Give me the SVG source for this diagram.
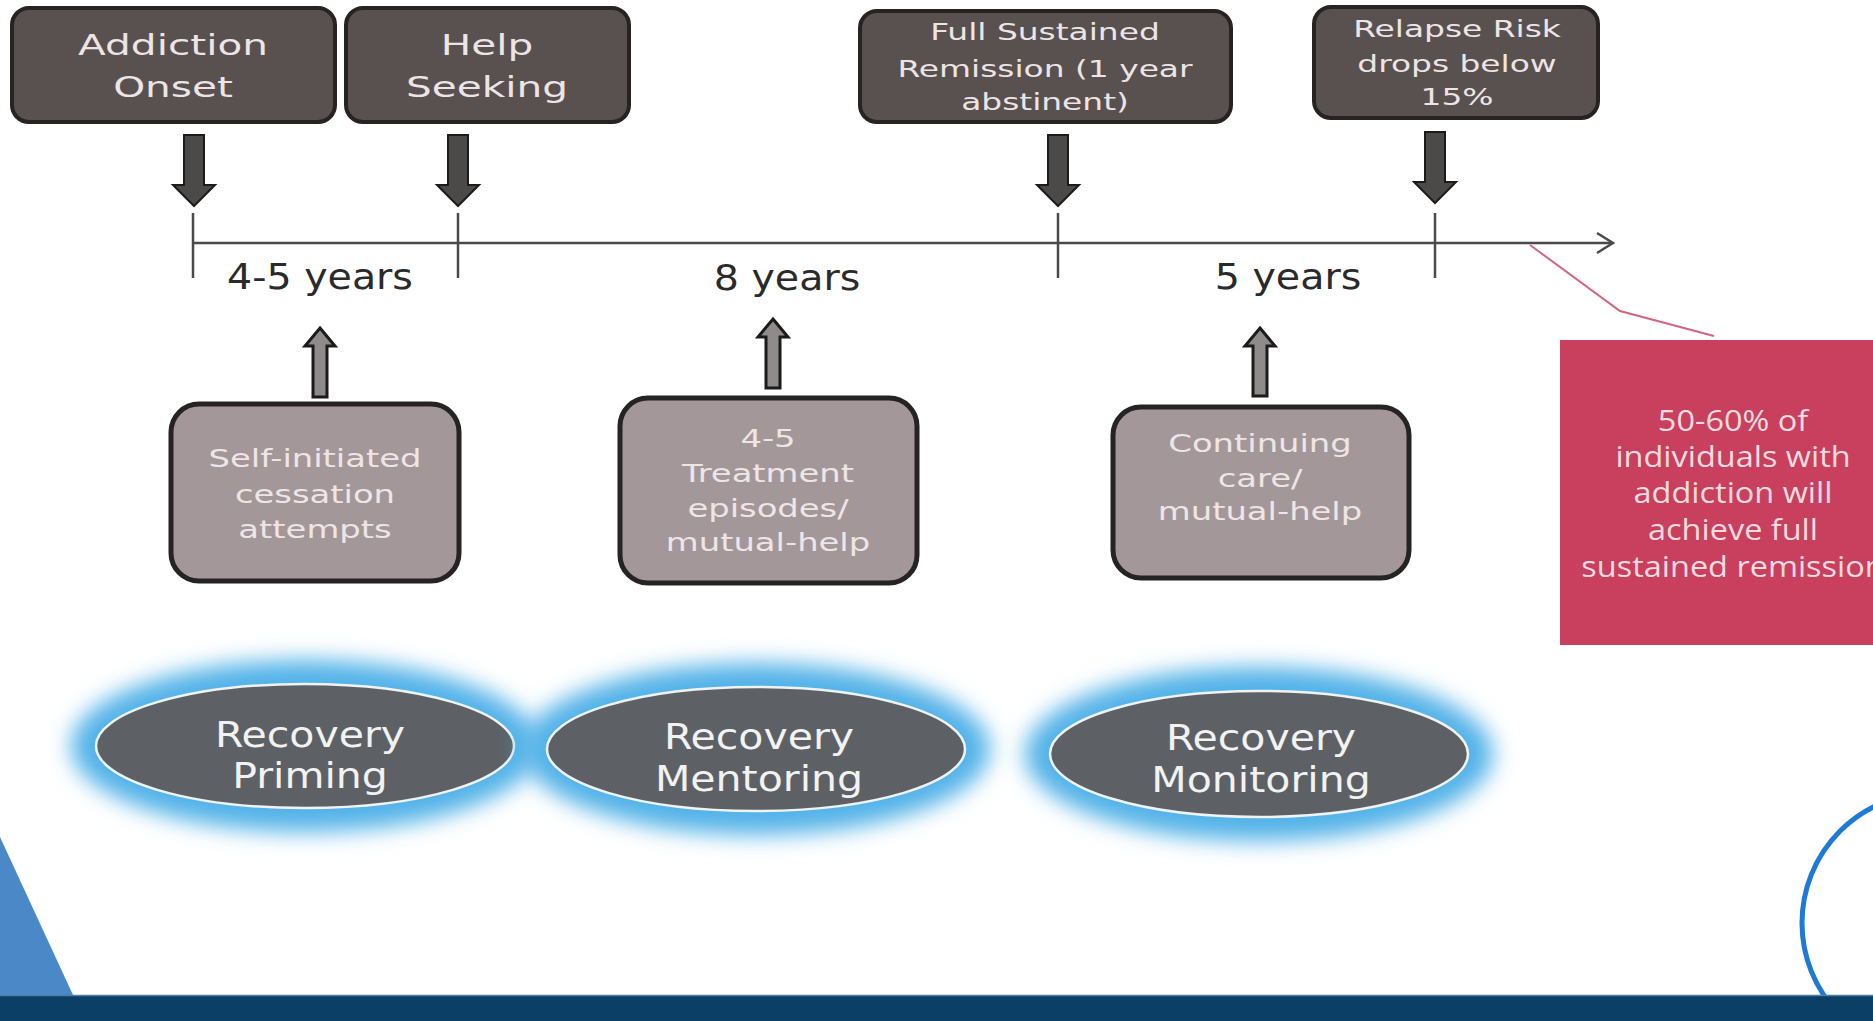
<svg xmlns="http://www.w3.org/2000/svg" width="1873" height="1021" viewBox="0 0 1873 1021">
<style>
.top{fill:#595050;stroke:#272323;stroke-width:4}
.low{fill:#a4979a;stroke:#252323;stroke-width:5}
.tt{font-family:"DejaVu Sans",sans-serif;fill:#ece5e5;text-anchor:middle}
.lt{font-family:"DejaVu Sans",sans-serif;fill:#eee6e6;text-anchor:middle;font-size:24.5px}
.yr{font-family:"DejaVu Sans",sans-serif;fill:#2a2a2a;text-anchor:middle;font-size:35px}
.et{font-family:"DejaVu Sans",sans-serif;fill:#f2f2f2;text-anchor:middle;font-size:36px}
.rt{font-family:"Open Sans","DejaVu Sans",sans-serif;fill:#f6dbe0;text-anchor:middle;font-size:29px}
.dn{fill:#4c4949;stroke:#1b1b1b;stroke-width:2}
.up{fill:#8f8b8b;stroke:#1b1b1b;stroke-width:3}
.ell{fill:#5d6165;stroke:#eef3f6;stroke-width:2.5}
.glow{fill:#52b2e8;filter:url(#blur)}
.tl{stroke:#4a4a4a;stroke-width:2.5;fill:none}
</style>
<defs>
<filter id="blur" x="-20%" y="-40%" width="140%" height="180%"><feGaussianBlur stdDeviation="11"/></filter>
</defs>
<rect width="1873" height="1021" fill="#ffffff"/>

<!-- decorative -->
<polygon points="0,837 73,995 0,995" fill="#4a88c8"/>
<circle cx="1932" cy="923" r="130" fill="none" stroke="#1f7ad6" stroke-width="5"/>
<rect x="0" y="995" width="1873" height="26" fill="#0c3f66"/>
<line x1="0" y1="995.5" x2="1873" y2="995.5" stroke="#4f7ea6" stroke-width="1.5"/>

<!-- connectors -->
<g id="connectors">
  <line class="tl" x1="193" y1="243" x2="1612" y2="243"/>
  <polyline class="tl" points="1597,233 1613,243 1597,253"/>
  <line class="tl" x1="193" y1="213" x2="193" y2="278"/>
  <line class="tl" x1="458" y1="213" x2="458" y2="278"/>
  <line class="tl" x1="1058" y1="213" x2="1058" y2="278"/>
  <line class="tl" x1="1435" y1="213" x2="1435" y2="278"/>
  <polygon class="dn" points="184,135 204,135 204,185 215,185 194,206 173,185 184,185"/>
  <polygon class="dn" points="448,135 468,135 468,185 479,185 458,206 437,185 448,185"/>
  <polygon class="dn" points="1048,135 1068,135 1068,185 1079,185 1058,206 1037,185 1048,185"/>
  <polygon class="dn" points="1425,132 1445,132 1445,182 1456,182 1435,203 1414,182 1425,182"/>
  <polygon class="up" points="320,328 335,346 327,346 327,397 313,397 313,346 305,346"/>
  <polygon class="up" points="773,319 788,337 780,337 780,388 766,388 766,337 758,337"/>
  <polygon class="up" points="1260,328 1275,346 1267,346 1267,396 1253,396 1253,346 1245,346"/>
  <polyline points="1530,245 1620,311 1714,336" fill="none" stroke="#d2657f" stroke-width="2"/>
</g>

<!-- year labels -->
<g id="labels">
  <text class="yr" transform="translate(320,289) scale(1.13,1)">4-5 years</text>
  <text class="yr" transform="translate(787,290) scale(1.13,1)">8 years</text>
  <text class="yr" transform="translate(1288,289) scale(1.13,1)">5 years</text>
</g>

<!-- top boxes -->
<g id="addiction-onset">
  <rect class="top" x="12" y="8" width="323" height="114" rx="17"/>
  <text class="tt" font-size="29" transform="translate(173,55) scale(1.4,1)"><tspan x="0" y="0">Addiction</tspan><tspan x="0" y="42">Onset</tspan></text>
</g>
<g id="help-seeking">
  <rect class="top" x="346" y="8" width="283" height="114" rx="17"/>
  <text class="tt" font-size="29" transform="translate(487,55) scale(1.4,1)"><tspan x="0" y="0">Help</tspan><tspan x="0" y="42">Seeking</tspan></text>
</g>
<g id="full-remission">
  <rect class="top" x="860" y="11" width="371" height="111" rx="17"/>
  <text class="tt" font-size="23" transform="translate(1045,40) scale(1.43,1)"><tspan x="0" y="0">Full Sustained</tspan><tspan x="0" y="37">Remission (1 year</tspan><tspan x="0" y="70">abstinent)</tspan></text>
</g>
<g id="relapse-risk">
  <rect class="top" x="1314" y="7" width="284" height="111" rx="17"/>
  <text class="tt" font-size="23" transform="translate(1457,37) scale(1.43,1)"><tspan x="0" y="0">Relapse Risk</tspan><tspan x="0" y="35">drops below</tspan><tspan x="0" y="68">15%</tspan></text>
</g>

<!-- lower boxes -->
<g id="self-initiated">
  <rect class="low" x="171" y="404" width="288" height="177" rx="28"/>
  <text class="lt" transform="translate(315,467) scale(1.38,1)"><tspan x="0" y="0">Self-initiated</tspan><tspan x="0" y="36">cessation</tspan><tspan x="0" y="71">attempts</tspan></text>
</g>
<g id="treatment">
  <rect class="low" x="620" y="398" width="297" height="185" rx="28"/>
  <text class="lt" transform="translate(768,447) scale(1.38,1)"><tspan x="0" y="0">4-5</tspan><tspan x="0" y="35">Treatment</tspan><tspan x="0" y="70">episodes/</tspan><tspan x="0" y="104">mutual-help</tspan></text>
</g>
<g id="continuing-care">
  <rect class="low" x="1113" y="407" width="296" height="171" rx="28"/>
  <text class="lt" transform="translate(1260,452) scale(1.38,1)"><tspan x="0" y="0">Continuing</tspan><tspan x="0" y="35">care/</tspan><tspan x="0" y="68">mutual-help</tspan></text>
</g>

<!-- red callout -->
<g id="remission-note">
  <rect x="1560" y="340" width="320" height="305" fill="#c8405d"/>
  <text class="rt" transform="translate(1733,431) scale(1.12,1)"><tspan x="0" y="0">50-60% of</tspan><tspan x="0" y="36">individuals with</tspan><tspan x="0" y="72">addiction will</tspan><tspan x="0" y="109">achieve full</tspan><tspan x="0" y="146">sustained remission</tspan></text>
</g>

<!-- ellipses -->
<g id="recovery-priming">
  <ellipse class="glow" cx="305" cy="746" rx="234" ry="86"/>
  <ellipse class="ell" cx="305" cy="746" rx="209" ry="62"/>
  <text class="et" transform="translate(310,747) scale(1.14,1)"><tspan x="0" y="0">Recovery</tspan><tspan x="0" y="41">Priming</tspan></text>
</g>
<g id="recovery-mentoring">
  <ellipse class="glow" cx="756" cy="749" rx="234" ry="86"/>
  <ellipse class="ell" cx="756" cy="749" rx="209" ry="62"/>
  <text class="et" transform="translate(759,749) scale(1.14,1)"><tspan x="0" y="0">Recovery</tspan><tspan x="0" y="42">Mentoring</tspan></text>
</g>
<g id="recovery-monitoring">
  <ellipse class="glow" cx="1259" cy="754" rx="234" ry="87"/>
  <ellipse class="ell" cx="1259" cy="754" rx="209" ry="63"/>
  <text class="et" transform="translate(1261,750) scale(1.14,1)"><tspan x="0" y="0">Recovery</tspan><tspan x="0" y="42">Monitoring</tspan></text>
</g>
</svg>
